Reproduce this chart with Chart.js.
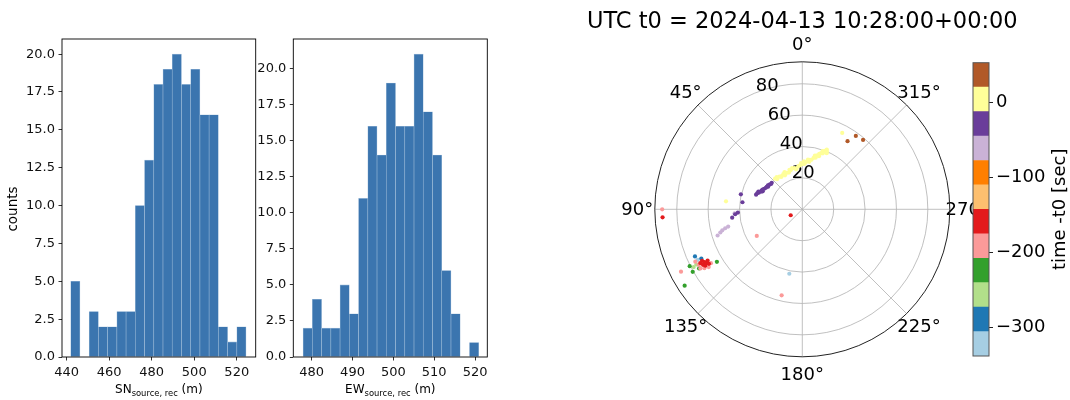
<!DOCTYPE html>
<html>
<head>
<meta charset="utf-8">
<script src="https://cdn.jsdelivr.net/npm/chart.js@4.4.1/dist/chart.umd.min.js"></script>
<style>
  html, body { margin: 0; padding: 0; background: #fff; }
  #wrap { position: relative; width: 1070px; height: 400px; overflow: hidden; }
  canvas { position: absolute; top: 0; }
</style>
</head>
<body>
<div id="wrap">
  <canvas id="histSN" style="left:0px" width="270" height="400"></canvas>
  <canvas id="histEW" style="left:230px" width="270" height="400"></canvas>
  <canvas id="polar" style="left:582px" width="441" height="400"></canvas>
  <canvas id="cbar" style="left:940px" width="130" height="400"></canvas>
</div>
<script>
// histogram bins (left edge of first bin, bin width) and counts
const snBinStart = 441.9, snBinWidth = 4.34;
const snCounts = [5, 0, 3, 2, 2, 3, 3, 10, 13, 18, 19, 20, 18, 19, 16, 16, 2, 1, 2];
const ewBinStart = 477.9, ewBinWidth = 2.263;
const ewCounts = [2, 4, 2, 2, 5, 3, 11, 16, 14, 19, 16, 16, 21, 17, 14, 6, 3, 0, 1];
const snTicks = [440, 460, 480, 500, 520];
const ewTicks = [480, 490, 500, 510, 520];
const countTicks = [0, 2.5, 5, 7.5, 10, 12.5, 15, 17.5, 20];

// polar scatter points, [azimuth deg, radius], grouped by time bin colour
const brownPts = [[326.4, 52.1], [323.9, 57.9], [318.8, 58.8]];
const yellowPts = [[41.7, 26.1], [35.1, 25.4], [28.3, 25.5], [23.1, 25.3], [16.5, 26.0], [11.0, 26.7],
  [5.3, 27.6], [0, 28.8], [355.6, 30.1], [351.2, 31.9], [347.6, 33.6], [344.5, 35.6], [341.6, 37.5],
  [338.9, 39.9], [337.7, 41.2], [31.8, 24.9], [7.9, 26.1], [358.0, 30.5], [346.8, 35.2], [340.8, 39.2],
  [351.6, 30.6], [342.6, 35.5], [84.0, 48.9], [332.4, 54.9],
  [38.5, 26.2], [33.0, 24.6], [25.5, 26.3], [20.0, 24.9], [14.0, 27.0], [9.0, 25.8], [3.0, 28.0],
  [357.0, 29.0], [353.5, 31.8], [349.5, 32.1], [345.5, 34.0], [343.0, 37.0], [339.8, 38.0],
  [337.0, 40.0], [336.5, 39.0], [352.5, 31.0], [1.5, 29.5], [18.0, 26.5], [27.0, 24.3], [40.0, 25.0]];
const purplePts = [[72.4, 30.9], [69.1, 29.7], [65.5, 28.6], [61.7, 27.6], [57.6, 26.8], [53.2, 26.2],
  [49.0, 25.8], [65.6, 27.7], [56.6, 26.1], [76.3, 40.3], [83.3, 38.4], [92.9, 41.1], [94.2, 42.9], [96.8, 45.0],
  [70.5, 30.5], [67.0, 28.6], [63.5, 28.3], [59.5, 27.0], [55.0, 26.7], [51.0, 25.6], [68.0, 30.2]];
const lilacPts = [[93.4, 43.2], [103.8, 50.6], [104.7, 52.7], [107.2, 56.5], [105.8, 54.3], [103.1, 48.5]];
const redPts = [[117.2, 71.8], [118.3, 70.9], [119.3, 70.1], [119.2, 72.5], [118.4, 68.6], [117.8, 73.5],
  [120.2, 71.5], [120.3, 68.9], [117.2, 8.3], [93.3, 89.2]];
const pinkPts = [[118.2, 74.9], [121.0, 72.8], [121.7, 70.1], [116.1, 75.9], [117.2, 86.9], [120.5, 67.6],
  [120.1, 75.1], [120.3, 33.6], [166.5, 56.4], [90.0, 89.3]];
const greenPts = [[121.6, 63.9], [116.8, 80.4], [119.7, 80.4], [123.0, 89.4], [119.8, 75.8]];
const lightGreenPts = [[117.5, 76.1], [118.0, 78.4]];
const bluePts = [[113.7, 74.7], [116.0, 71.6]];
const lightBluePts = [[115.8, 74.0], [168.6, 41.9]];

const ringValues = [20, 40, 60, 80];
const rMax = 94;
const angleLabels = [0, 45, 90, 135, 180, 225, 270, 315];
const polarTitle = 'UTC t0 = 2024-04-13 10:28:00+00:00';

// colourbar (Paired, bottom to top)
const pairedColors = ['#a6cee3', '#1f78b4', '#b2df8a', '#33a02c', '#fb9a99', '#e31a1c',
  '#fdbf6f', '#ff7f00', '#cab2d6', '#6a3d9a', '#ffff99', '#b15928'];
const cbarEdges = [-338.3, -305.7, -273.1, -240.5, -207.9, -175.3, -142.7, -110.1, -77.5, -44.9, -12.3, 20.3, 52.9];
const cbarTicks = [0, -100, -200, -300];

const FONT = 'DejaVu Sans';
Chart.defaults.font.family = FONT;
Chart.defaults.color = '#000';

function drawSubLabel(ctx, cx, baseline, main, sub, tail) {
    ctx.font = '12px "' + FONT + '"';
    const w1 = ctx.measureText(main).width, w3 = ctx.measureText(tail).width;
    ctx.font = '8.4px "' + FONT + '"';
    const w2 = ctx.measureText(sub).width;
    let x = cx - (w1 + w2 + w3) / 2;
    ctx.fillStyle = '#000';
    ctx.textAlign = 'left';
    ctx.textBaseline = 'alphabetic';
    ctx.font = '12px "' + FONT + '"';
    ctx.fillText(main, x, baseline);
    ctx.font = '8.4px "' + FONT + '"';
    ctx.fillText(sub, x + w1, baseline + 3.3);
    ctx.font = '12px "' + FONT + '"';
    ctx.fillText(tail, x + w1 + w2, baseline);
}

function histChart(id, start, width, counts, xTicks, xMin, xMax, yMax, yAxisW, padRight, labelMain, labelSub, withYTitle) {
    const points = counts.map((c, i) => ({ x: start + width * (i + 0.5), y: c === 0 ? null : c }));
    const framePlugin = {
        id: 'frame_' + id,
        afterDraw(chart) {
            const { ctx, chartArea: a } = chart;
            ctx.save();
            ctx.strokeStyle = '#000';
            ctx.lineWidth = 0.9;
            ctx.strokeRect(a.left, a.top, a.right - a.left, a.bottom - a.top);
            drawSubLabel(ctx, (a.left + a.right) / 2, 392.5, labelMain, labelSub, ' (m)');
            if (withYTitle) {
                ctx.translate(13.5, 209);
                ctx.rotate(-Math.PI / 2);
                ctx.font = '13.5px "' + FONT + '"';
                ctx.textAlign = 'center';
                ctx.textBaseline = 'middle';
                ctx.fillText('counts', 0, 0);
            }
            ctx.restore();
        }
    };
    return new Chart(document.getElementById(id), {
        type: 'bar',
        data: {
            datasets: [{
                data: points,
                backgroundColor: '#3b75af',
                borderColor: '#9dbbd8',
                borderWidth: 0.6,
                barPercentage: 1,
                categoryPercentage: 1
            }]
        },
        options: {
            responsive: false,
            animation: false,
            layout: { padding: { left: 0, right: padRight, top: 39, bottom: 0 } },
            plugins: { legend: { display: false }, tooltip: { enabled: false } },
            scales: {
                x: {
                    type: 'linear',
                    min: xMin,
                    max: xMax,
                    offset: false,
                    afterBuildTicks: s => { s.ticks = xTicks.map(v => ({ value: v })); },
                    afterFit: s => { s.height = 43; },
                    grid: { offset: false, drawOnChartArea: false, tickLength: 3.5, color: '#000', lineWidth: 0.8 },
                    border: { display: false },
                    ticks: { padding: 4, maxRotation: 0, font: { size: 13 }, color: '#111', callback: v => String(v) }
                },
                y: {
                    min: 0,
                    max: yMax,
                    afterBuildTicks: s => { s.ticks = countTicks.map(v => ({ value: v })); },
                    afterFit: s => { s.width = yAxisW; },
                    grid: { drawOnChartArea: false, tickLength: 3.5, color: '#000', lineWidth: 0.8 },
                    border: { display: false },
                    ticks: { padding: 3.5, font: { size: 13 }, color: '#111', callback: v => v.toFixed(1) }
                }
            }
        },
        plugins: [framePlugin]
    });
}

histChart('histSN', snBinStart, snBinWidth, snCounts, snTicks, 437.8, 528.9, 21, 62, 14.3,
    'SN', 'source, rec', true);
histChart('histEW', ewBinStart, ewBinWidth, ewCounts, ewTicks, 475.5, 523.0, 22.05, 63.3, 12.7,
    'EW', 'source, rec', false);

// polar: azimuth measured counter-clockwise from north (0 at top, 90 at left)
function toXY(thetaDeg, r) {
    const t = thetaDeg * Math.PI / 180;
    return { x: -r * Math.sin(t), y: r * Math.cos(t) };
}

const polarGrid = {
    id: 'polarGrid',
    beforeDatasetsDraw(chart) {
        const { ctx, scales: { x, y } } = chart;
        const cx = x.getPixelForValue(0), cy = y.getPixelForValue(0);
        const rad = v => x.getPixelForValue(v) - cx;
        ctx.save();
        ctx.strokeStyle = '#b0b0b0';
        ctx.lineWidth = 0.8;
        ringValues.forEach(r => {
            ctx.beginPath();
            ctx.arc(cx, cy, rad(r), 0, Math.PI * 2);
            ctx.stroke();
        });
        angleLabels.forEach(a => {
            const p = toXY(a, rMax);
            ctx.beginPath();
            ctx.moveTo(cx, cy);
            ctx.lineTo(x.getPixelForValue(p.x), y.getPixelForValue(p.y));
            ctx.stroke();
        });
        ctx.fillStyle = '#000';
        ctx.textAlign = 'center';
        ctx.textBaseline = 'middle';
        ctx.font = '22.5px "' + FONT + '"';
        ctx.fillText(polarTitle, cx, 22.5);
        ctx.font = '18px "' + FONT + '"';
        const R = rad(rMax) + 17.5;
        angleLabels.forEach(a => {
            const t = a * Math.PI / 180;
            ctx.fillText(a + '°', cx - R * Math.sin(t), cy - R * Math.cos(t) + 1);
        });
        ctx.textAlign = 'left';
        ctx.textBaseline = 'alphabetic';
        const t = 22.5 * Math.PI / 180;
        ringValues.forEach(r => {
            const d = rad(r);
            ctx.fillText(String(r), cx - d * Math.sin(t) + 1.5, cy - d * Math.cos(t) - 2);
        });
        ctx.restore();
    },
    afterDatasetsDraw(chart) {
        const { ctx, scales: { x, y } } = chart;
        const cx = x.getPixelForValue(0), cy = y.getPixelForValue(0);
        ctx.save();
        ctx.strokeStyle = '#222';
        ctx.lineWidth = 1;
        ctx.beginPath();
        ctx.arc(cx, cy, x.getPixelForValue(rMax) - cx, 0, Math.PI * 2);
        ctx.stroke();
        ctx.restore();
    }
};

const groups = [
    [brownPts, pairedColors[11]],
    [yellowPts, pairedColors[10]],
    [purplePts, pairedColors[9]],
    [lilacPts, pairedColors[8]],
    [redPts, pairedColors[5]],
    [pinkPts, pairedColors[4]],
    [greenPts, pairedColors[3]],
    [lightGreenPts, pairedColors[2]],
    [bluePts, pairedColors[1]],
    [lightBluePts, pairedColors[0]]
];

new Chart(document.getElementById('polar'), {
    type: 'scatter',
    data: {
        datasets: groups.map(([pts, color]) => ({
            data: pts.map(([t, r]) => toXY(t, r)),
            backgroundColor: color,
            pointRadius: 2.1,
            pointBorderWidth: 0
        }))
    },
    options: {
        responsive: false,
        animation: false,
        layout: { padding: { left: 72.8, right: 73.2, top: 61.8, bottom: 43.2 } },
        plugins: { legend: { display: false }, tooltip: { enabled: false } },
        scales: {
            x: { type: 'linear', min: -rMax, max: rMax, display: false },
            y: { type: 'linear', min: -rMax, max: rMax, display: false }
        }
    },
    plugins: [polarGrid]
});

const cbarFrame = {
    id: 'cbarFrame',
    afterDraw(chart) {
        const { ctx, chartArea: a } = chart;
        ctx.save();
        ctx.strokeStyle = '#555';
        ctx.lineWidth = 1;
        ctx.strokeRect(a.left, a.top, a.right - a.left, a.bottom - a.top);
        ctx.translate(120, (a.top + a.bottom) / 2);
        ctx.rotate(-Math.PI / 2);
        ctx.fillStyle = '#000';
        ctx.font = '18px "' + FONT + '"';
        ctx.textAlign = 'center';
        ctx.textBaseline = 'middle';
        ctx.fillText('time -t0 [sec]', 0, 0);
        ctx.restore();
    }
};

new Chart(document.getElementById('cbar'), {
    type: 'bar',
    data: {
        labels: [''],
        datasets: pairedColors.map((c, i) => ({
            data: [[cbarEdges[i], cbarEdges[i + 1]]],
            backgroundColor: c,
            grouped: false,
            barPercentage: 1,
            categoryPercentage: 1,
            borderWidth: 0
        }))
    },
    options: {
        responsive: false,
        animation: false,
        layout: { padding: { left: 33, right: 0, top: 62.7, bottom: 44 } },
        plugins: { legend: { display: false }, tooltip: { enabled: false } },
        scales: {
            x: { display: false },
            y: {
                position: 'right',
                min: cbarEdges[0],
                max: cbarEdges[cbarEdges.length - 1],
                afterBuildTicks: s => { s.ticks = cbarTicks.map(v => ({ value: v })); },
                afterFit: s => { s.width = 81; },
                grid: { drawOnChartArea: false, tickLength: 4, color: '#222', lineWidth: 1 },
                border: { display: false },
                ticks: { padding: 3, font: { size: 18 }, color: '#000',
                    callback: v => v === 0 ? '0' : '\u2212' + Math.abs(v) }
            }
        }
    },
    plugins: [cbarFrame]
});
</script>
</body>
</html>
